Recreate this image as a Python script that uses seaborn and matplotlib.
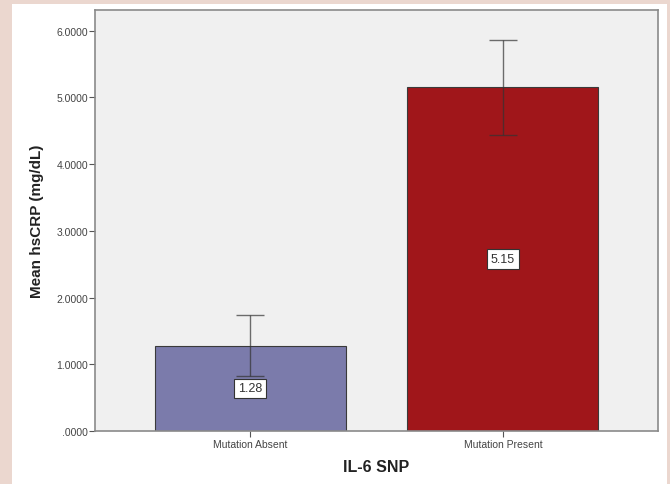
import matplotlib
matplotlib.use("Agg")
import matplotlib.pyplot as plt
import seaborn as sns
import pandas as pd
from matplotlib.patches import Rectangle

categories = ["Mutation Absent", "Mutation Present"]
means = [1.28, 5.15]
ci_low = [0.82, 4.44]
ci_high = [1.74, 5.86]
value_labels = ["1.28", "5.15"]
bar_colors = ["#7b7bab", "#a0161a"]
y_ticks = [0, 1, 2, 3, 4, 5, 6]
y_tick_labels = [".0000", "1.0000", "2.0000", "3.0000", "4.0000", "5.0000", "6.0000"]

sns.set_style("white")
plt.rcParams["font.family"] = ["Liberation Sans", "DejaVu Sans"]

fig = plt.figure(figsize=(6.7, 4.85), dpi=100)
fig.patch.set_facecolor("#ebd7cf")
panel = Rectangle((12 / 670, 0), 655 / 670, 480 / 485,
                  transform=fig.transFigure, facecolor="white",
                  edgecolor="none", zorder=-10)
fig.add_artist(panel)

ax = fig.add_axes([95 / 670, 53 / 485, 563 / 670, 421 / 485])
ax.set_zorder(5)
ax.set_facecolor("#f0f0f0")

df = pd.DataFrame({"cat": categories, "mean": means})
sns.barplot(data=df, x="cat", y="mean", hue="cat", palette=bar_colors,
            saturation=1, errorbar=None, width=0.755, legend=False, ax=ax,
            edgecolor="#3a3a3a", linewidth=0.8, zorder=2)

xs = list(range(len(categories)))
lower = [m - l for m, l in zip(means, ci_low)]
upper = [h - m for m, h in zip(means, ci_high)]
ax.errorbar(xs, means, yerr=[lower, upper], fmt="none", ecolor="#333333",
            elinewidth=1.0, capsize=10, capthick=1.0, zorder=3, alpha=0.7)

for x, m, lab in zip(xs, means, value_labels):
    ax.text(x, m / 2, lab, ha="center", va="center", fontsize=9, color="#333333",
            bbox=dict(boxstyle="square,pad=0.3", facecolor="white",
                      edgecolor="#333333", linewidth=0.8), zorder=4)

ax.set_xlim(-0.613, 1.613)
ax.set_ylim(0, 6.31)
ax.set_yticks(y_ticks)
ax.set_yticklabels(y_tick_labels)
ax.tick_params(axis="y", direction="out", length=4, width=0.8, color="#555555",
               labelsize=7.5, labelcolor="#444444", pad=1, left=True)
ax.tick_params(axis="x", direction="out", length=4, width=0.8, color="#555555",
               labelsize=7.5, labelcolor="#444444", pad=2, bottom=True)

for s in ax.spines.values():
    s.set_visible(True)
    s.set_color("#8a8a8a")
    s.set_linewidth(1.2)

ax.set_ylabel("Mean hsCRP (mg/dL)", fontsize=11, fontweight="bold", labelpad=9,
              color="#222222")
ax.set_xlabel("IL-6 SNP", fontsize=11.5, fontweight="bold", labelpad=7,
              color="#222222")

fig.savefig("out.png", dpi=100, facecolor=fig.get_facecolor())
